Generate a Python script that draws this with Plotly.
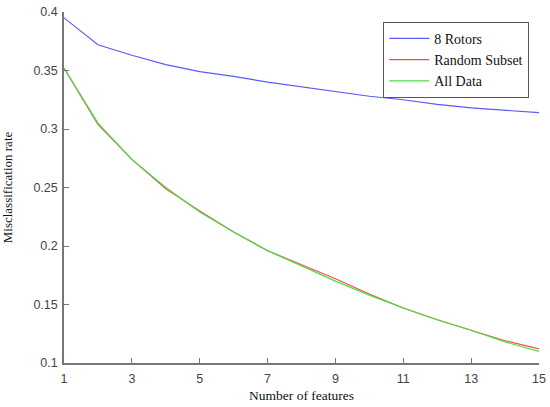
import plotly.graph_objects as go

features = list(range(1, 16))
rotors8 = [0.395, 0.372, 0.363, 0.355, 0.349, 0.345, 0.340, 0.336, 0.332, 0.328, 0.325, 0.321, 0.318, 0.316, 0.314]
random_subset = [0.352, 0.304, 0.274, 0.249, 0.230, 0.212, 0.196, 0.184, 0.172, 0.159, 0.147, 0.137, 0.128, 0.119, 0.112]
all_data = [0.352, 0.305, 0.274, 0.250, 0.229, 0.212, 0.196, 0.183, 0.170, 0.158, 0.147, 0.137, 0.128, 0.118, 0.110]
x_ticks = [1, 3, 5, 7, 9, 11, 13, 15]
y_ticks = [0.1, 0.15, 0.2, 0.25, 0.3, 0.35, 0.4]

fig = go.Figure()
fig.add_trace(go.Scatter(x=features, y=rotors8, mode="lines", name="8 Rotors",
                         line=dict(color="#5a5aff", width=1.2)))
fig.add_trace(go.Scatter(x=features, y=random_subset, mode="lines", name="Random Subset",
                         line=dict(color="#ff4a4a", width=1.2)))
fig.add_trace(go.Scatter(x=features, y=all_data, mode="lines", name="All Data",
                         line=dict(color="#44e044", width=1.2)))

fig.update_layout(
    width=550, height=407,
    margin=dict(l=64, r=11, t=12, b=44),
    paper_bgcolor="white", plot_bgcolor="white",
    font=dict(family="Liberation Sans", size=12.5, color="#444444"),
    showlegend=True,
    legend=dict(x=0.672, y=0.972, xanchor="left", yanchor="top",
                bgcolor="white", bordercolor="#555555", borderwidth=1,
                font=dict(family="Liberation Serif", size=14, color="#111111"),
                tracegroupgap=0, itemwidth=40),
)
fig.update_xaxes(range=[1, 15], tickvals=x_ticks, ticktext=[str(v) for v in x_ticks],
                 showgrid=False, zeroline=False, showline=True, linecolor="#777777", linewidth=1.5,
                 ticks="inside", ticklen=5, tickcolor="#777777", automargin=False, ticklabelstandoff=3,
                 ticklabeloverflow="allow",
                 title=dict(text="Number of features", font=dict(family="Liberation Serif", size=13.5, color="#111111"), standoff=6))
fig.update_yaxes(range=[0.1, 0.4], tickvals=y_ticks, ticktext=["0.1", "0.15", "0.2", "0.25", "0.3", "0.35", "0.4"],
                 showgrid=False, zeroline=False, showline=True, linecolor="#777777", linewidth=1.5,
                 ticks="inside", ticklen=5, tickcolor="#777777", automargin=False, ticklabelstandoff=2,
                 ticklabeloverflow="allow",
                 title=dict(text="Misclassification rate", font=dict(family="Liberation Serif", size=13, color="#111111"), standoff=22))

fig.write_html("out.html", config={"displayModeBar": False},
               post_script="document.body.style.margin='0';document.body.style.overflow='hidden';")
